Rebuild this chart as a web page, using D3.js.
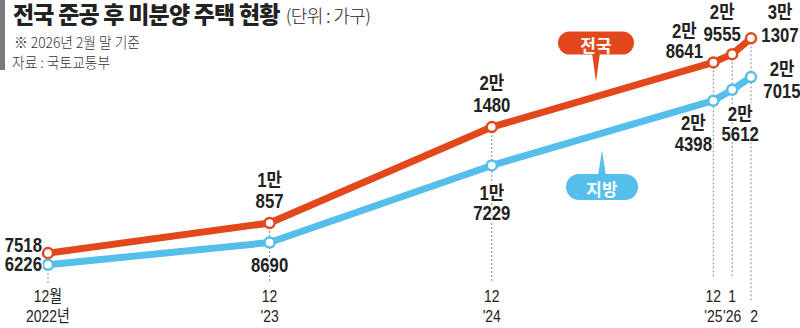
<!DOCTYPE html>
<html><head><meta charset="utf-8">
<script src="https://cdn.jsdelivr.net/npm/d3@7"></script>
<style>
html,body{margin:0;padding:0;background:#fff;}
svg{display:block;}
</style></head>
<body>
<svg id="c" width="800" height="328"></svg>
<script>
// ---- data ----
const dates = ["2022-12","2023-12","2024-12","2025-12","2026-01","2026-02"];
const national = [7518, 10857, 21480, 28641, 29555, 31307];   // 전국
const regional = [6226, 8690, 17229, 24398, 25612, 27015];    // 지방
const tickRow1 = ["12월","12","12","12","1",""];
const tickRow2 = ["2022년","'23","'24","'25","'26","2"];

// ---- layout ----
const ORANGE = "#E2481C", BLUE = "#56BEEA", INK = "#222";
const NUM_FONT = "'Liberation Sans','Noto Sans CJK KR',sans-serif";
const KR_FONT = "'Noto Sans CJK KR','Noto Sans',sans-serif";

const parse = d3.utcParse("%Y-%m");
const x = d3.scaleUtc().domain([parse(dates[0]), parse(dates[dates.length-1])]).range([48, 751]);
const y = d3.scaleLinear().domain([0, 35000]).range([321, 5]);

const svg = d3.select("#c");

// condensed text helper
function ctext(parent, px, py, str, opts){
  const o = Object.assign({sx:0.86, size:17, weight:400, anchor:"start", fill:INK, font:NUM_FONT, halo:false}, opts||{});
  const t = parent.append("text").attr("transform",`translate(${px},${py}) scale(${o.sx},1)`)
    .attr("text-anchor",o.anchor).attr("dominant-baseline","central")
    .attr("font-family",o.font).attr("font-size",o.size).attr("font-weight",o.weight).attr("fill",o.fill).text(str);
  if (o.halo) t.attr("stroke","#fff").attr("stroke-width",3).attr("paint-order","stroke");
  return t;
}

// left grey bar
svg.append("rect").attr("x",0).attr("y",0).attr("width",5).attr("height",70).attr("fill","#7a7a7a");

// title
const t = svg.append("text").attr("x",13).attr("y",23).attr("font-family",KR_FONT).attr("fill",INK);
t.append("tspan").attr("font-size",23).attr("font-weight",900).attr("letter-spacing",-0.8).text("전국 준공 후 미분양 주택 현황");
t.append("tspan").attr("font-size",18).attr("font-weight",300).attr("dx",6).attr("letter-spacing",-0.6).text("(단위 : 가구)");
ctext(svg, 14, 42, "※ 2026년 2월 말 기준", {font:KR_FONT, size:14.5, sx:0.95, weight:300, fill:"#333"});
ctext(svg, 12, 62, "자료 : 국토교통부", {font:KR_FONT, size:14.5, sx:0.95, weight:300, fill:"#333"});

// dashed guide lines
const guideEnd = [283, 283, 281, 278, 278, 302];
dates.forEach((d,i)=>{
  svg.append("line").attr("x1",x(parse(d))).attr("x2",x(parse(d)))
    .attr("y1",y(national[i])).attr("y2",guideEnd[i])
    .attr("stroke","#8a8a8a").attr("stroke-width",1).attr("stroke-dasharray","2,2");
});

// axis labels
dates.forEach((d,i)=>{
  const cx = x(parse(d));
  if (tickRow1[i]) ctext(svg, cx, 296, tickRow1[i], {anchor:"middle", size:17, sx:0.82, weight:400});
  ctext(svg, i===5 ? cx+3 : cx, 316, tickRow2[i], {anchor:"middle", size:17, sx:0.82, weight:400});
});

// lines
const pts = arr => arr.map((v,i)=>[x(parse(dates[i])), y(v)]);
const line = d3.line();
[[national,ORANGE],[regional,BLUE]].forEach(([arr,col])=>{
  svg.append("path").attr("d",line(pts(arr))).attr("fill","none").attr("stroke",col)
    .attr("stroke-width",7).attr("stroke-linejoin","round").attr("stroke-linecap","round");
});
[[national,ORANGE],[regional,BLUE]].forEach(([arr,col])=>{
  svg.selectAll(null).data(pts(arr)).enter().append("circle")
    .attr("cx",d=>d[0]).attr("cy",d=>d[1]).attr("r",5)
    .attr("fill","#fff").attr("stroke",col).attr("stroke-width",2.5);
});

// legend callouts
function callout(cx, cy, w, h, tipY, col, label){
  const g = svg.append("g");
  const up = tipY < cy;
  const baseY = up ? cy - h/2 + 2 : cy + h/2 - 2;
  g.append("path").attr("d",`M${cx-4},${baseY}L${cx},${tipY}L${cx+4},${baseY}Z`).attr("fill",col);
  g.append("rect").attr("x",cx-w/2).attr("y",cy-h/2).attr("width",w).attr("height",h)
    .attr("rx",h/2).attr("fill",col);
  g.append("text").attr("x",cx).attr("y",cy+1).attr("text-anchor","middle").attr("dominant-baseline","central")
    .attr("font-family",KR_FONT).attr("font-weight",700).attr("font-size",17).attr("fill","#fff").text(label);
}
callout(596, 43, 76, 23, 82, ORANGE, "전국");
callout(602, 187, 72, 26, 150, BLUE, "지방");

// value labels
function fmt(v){ return v >= 10000 ? [Math.floor(v/10000)+"만", String(v%10000)] : [String(v)]; }
// placement: [dx, anchor, line-centre offsets]
const natPlace = [[-6,"end",[-8]],[0,"middle",[-42,-21]],[0,"middle",[-43,-21]],[-29,"middle",[-31,-11]],[-10,"middle",[-42,-20]],[29,"middle",[-26,-3]]];
const regPlace = [[-6,"end",[0]],[0,"middle",[23]],[0,"middle",[28,48]],[-20,"middle",[23,44]],[8,"middle",[25,45]],[31,"middle",[-8,14]]];
function labels(arr, place){
  arr.forEach((v,i)=>{
    const px = x(parse(dates[i])), py = y(v);
    const [dx, anchor, offs] = place[i];
    fmt(v).forEach((s,k)=>{
      ctext(svg, px+dx, py+offs[k], s, {anchor, size:19.5, sx:0.86, weight:700, halo:true});
    });
  });
}
labels(national, natPlace);
labels(regional, regPlace);
</script>
</body></html>
